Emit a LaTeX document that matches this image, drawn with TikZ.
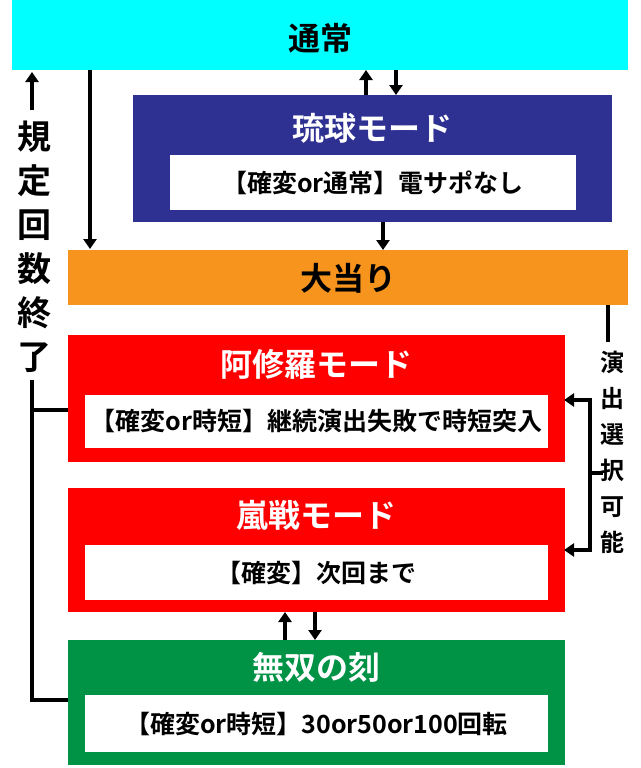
\documentclass[tikz,border=0pt]{standalone}
\usepackage{fontspec}
\setmainfont{Noto Sans CJK JP}[BoldFont={Noto Sans CJK JP Bold}]
\usetikzlibrary{arrows.meta,positioning}
\definecolor{tsujoc}{RGB}{0,255,255}
\definecolor{ryukyuc}{RGB}{46,49,146}
\definecolor{oataric}{RGB}{247,148,29}
\definecolor{ashurac}{RGB}{255,0,0}
\definecolor{musoc}{RGB}{0,146,69}
\begin{document}
\begin{tikzpicture}[x=1pt,y=-1pt,
  ttl/.style={font=\bfseries\fontsize{32}{36}\selectfont},
  sub/.style={fill=white,inner sep=0pt,font=\bfseries\fontsize{25}{28}\selectfont},
  conn/.style={line width=3.5pt},
  arr/.style={conn,-{Triangle[width=13pt,length=10pt]}}]
\useasboundingbox (0,0) rectangle (640,768);

% boxes
\fill[tsujoc] (12,0) rectangle (628,70);
\node[ttl] (tsujo) at (320,38) {通常};
\fill[ryukyuc] (133,95) rectangle (612,222);
\node[ttl,white] (ryukyu) at (372,128) {琉球モード};
\node[sub,minimum width=406pt,minimum height=55pt] (ryukyuin) at (373,182.5) {【確変or通常】電サポなし};
\fill[oataric] (68,250) rectangle (628,305);
\node[ttl] (oatari) at (348,278) {大当り};
\fill[ashurac] (68,335) rectangle (565,462);
\node[ttl,white] (ashura) at (316,364) {阿修羅モード};
\node[sub,minimum width=463pt,minimum height=53pt] (ashurain) at (316.5,421.5) {【確変or時短】継続演出失敗で時短突入};
\fill[ashurac] (68,488) rectangle (565,612);
\node[ttl,white] (ransen) at (316,515) {嵐戦モード};
\node[sub,minimum width=463pt,minimum height=55pt] (ransenin) at (316.5,572.5) {【確変】次回まで};
\fill[musoc] (68,640) rectangle (565,765);
\node[ttl,white] (muso) at (316,667) {無双の刻};
\node[sub,minimum width=463pt,minimum height=57pt] (musoin) at (316.5,723.5) {【確変or時短】30or50or100回転};

% vertical labels
\node[align=center,inner sep=0pt,font=\bfseries\fontsize{34}{44}\selectfont] (kitei) at (34,247) {規\\定\\回\\数\\終\\了};
\node[align=center,inner sep=0pt,font=\bfseries\fontsize{24}{36}\selectfont] (ensyutsu) at (612,452) {演\\出\\選\\択\\可\\能};

% connectors
\draw[arr] (366,95) -- (366,70);
\draw[arr] (396,70) -- (396,95);
\draw[arr] (383,222) -- (383,250);
\draw[arr] (90,70) -- (90,249);
\draw[arr] (285,640) -- (285,612);
\draw[arr] (315,612) -- (315,640);
\draw[arr] (32,110) -- (32,72);
\draw[conn] (32,380) -- (32,700) -- (68,700);
\draw[conn] (32,410) -- (68,410);
\draw[conn] (608,305) -- (608,342);
\draw[arr] (592,400) -- (564,400);
\draw[arr] (592,550) -- (564,550);
\draw[conn] (590,398) -- (590,552);
\draw[conn] (590,473) -- (603,473);
\end{tikzpicture}
\end{document}
